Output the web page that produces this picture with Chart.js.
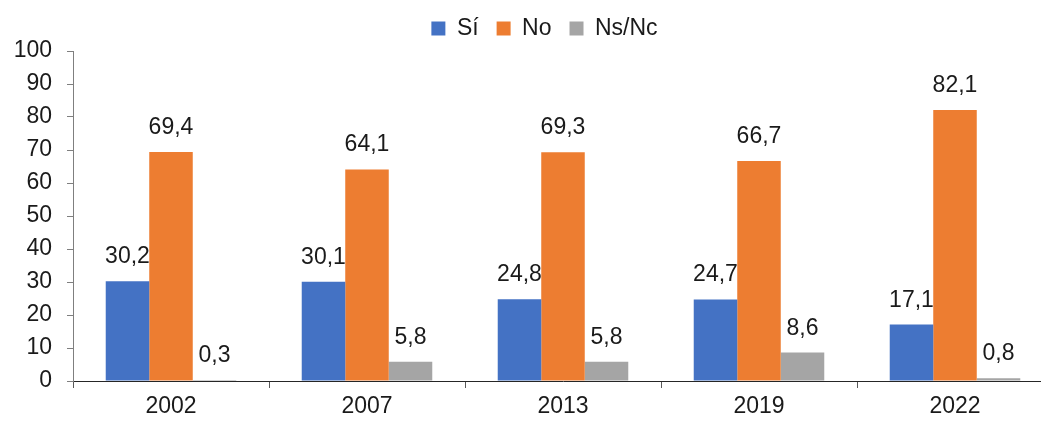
<!DOCTYPE html>
<html>
<head>
<meta charset="utf-8">
<script src="https://cdn.jsdelivr.net/npm/chart.js@4/dist/chart.umd.min.js"></script>
<style>
  body { margin: 0; overflow: hidden; background: #fff; }
  #wrap { width: 1041px; height: 421px; overflow: hidden; }
</style>
</head>
<body>
<div id="wrap"><canvas id="chart1" width="1088" height="421"></canvas></div>
<script>
// datos
let years = ['2002', '2007', '2013', '2019', '2022']
let si = [30.2, 30.1, 24.8, 24.7, 17.1]
let no = [69.4, 64.1, 69.3, 66.7, 82.1]
let nsnc = [0.3, 5.8, 5.8, 8.6, 0.8]
let yTicks = [0, 10, 20, 30, 40, 50, 60, 70, 80, 90, 100]

let fuente = "'Liberation Sans', Arial, sans-serif"

// etiquetas encima de las barras
let etiquetas = {
    id: 'etiquetas',
    afterDatasetsDraw(chart) {
        let ctx = chart.ctx
        ctx.save()
        ctx.font = '23px ' + fuente
        ctx.fillStyle = '#1a1a1a'
        ctx.textAlign = 'center'
        ctx.textBaseline = 'alphabetic'
        chart.data.datasets.forEach(function (ds, i) {
            let meta = chart.getDatasetMeta(i)
            meta.data.forEach(function (bar, j) {
                let txt = ds.data[j].toFixed(1).replace('.', ',')
                ctx.fillText(txt, bar.x, bar.y - 18)
            })
        })
        ctx.restore()
    }
}

// mover la leyenda un poco a la derecha (centrada como en el original)
let moverLeyenda = {
    id: 'moverLeyenda',
    afterLayout(chart) {
        let lg = chart.legend
        lg.left += 18
        lg.right += 18
        lg.top -= 1
        lg.bottom -= 1
    }
}

let chart1 = document.getElementById('chart1').getContext('2d')

let grafico = new Chart(chart1, {
    type: 'bar',
    data: {
        labels: years,
        datasets: [
            { label: 'Sí', data: si, backgroundColor: '#4472C4' },
            { label: 'No', data: no, backgroundColor: '#ED7D31' },
            { label: 'Ns/Nc', data: nsnc, backgroundColor: '#A5A5A5' }
        ]
    },
    options: {
        responsive: false,
        animation: false,
        layout: { padding: { top: 0, right: 35, left: 0, bottom: 0 } },
        datasets: {
            bar: { categoryPercentage: 0.666, barPercentage: 1.0, borderWidth: 0 }
        },
        plugins: {
            legend: {
                position: 'top',
                labels: {
                    boxWidth: 14,
                    boxHeight: 14,
                    padding: 18,
                    color: '#1a1a1a',
                    font: { size: 23, family: fuente }
                }
            },
            tooltip: { enabled: false }
        },
        scales: {
            x: {
                grid: { drawOnChartArea: false, tickLength: 7, color: '#595959' },
                border: { color: '#262626', width: 1 },
                ticks: { color: '#1a1a1a', font: { size: 23, family: fuente }, padding: 5 },
                afterFit: function (scale) { scale.height = 40 }
            },
            y: {
                min: 0,
                max: 100,
                afterBuildTicks: function (scale) {
                    scale.ticks = yTicks.map(function (v) { return { value: v } })
                },
                grid: { drawOnChartArea: false, tickLength: 6, color: '#7f7f7f' },
                border: { color: '#7f7f7f', width: 1 },
                ticks: { color: '#1a1a1a', font: { size: 23, family: fuente }, padding: 15 },
                afterFit: function (scale) { scale.width = 73 }
            }
        }
    },
    plugins: [etiquetas, moverLeyenda]
});
</script>
</body>
</html>
